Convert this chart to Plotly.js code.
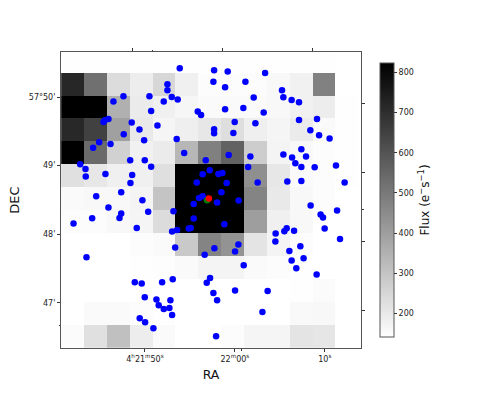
<!DOCTYPE html>
<html>
<head>
<meta charset="utf-8">
<script src="https://cdn.plot.ly/plotly-3.0.1.min.js"></script>
<style>html,body{margin:0;padding:0;background:#fff}</style>
</head>
<body>
<div id="chart" style="width:484px;height:396px"></div>
<script>
// flux per image pixel, rows listed top to bottom
const fluxRows = [
  [145,145,145,145,145,145,145,145,145,145,145,145,143,143],
  [720,523,235,190,248,182,150,150,150,160,180,478,143,143],
  [823,823,353,195,182,165,155,155,155,160,180,190,144,143],
  [715,650,395,200,170,185,205,230,185,170,195,155,144,143],
  [823,540,265,180,195,335,480,560,275,172,160,150,144,143],
  [225,205,182,182,227,823,823,823,440,206,155,150,144,143],
  [155,160,160,172,300,823,823,823,470,200,160,150,143,143],
  [150,150,160,170,235,823,823,823,400,182,160,143,143,143],
  [143,143,143,150,155,285,470,430,215,172,150,143,143,143],
  [143,143,143,146,148,155,172,172,155,150,146,143,143,143],
  [143,143,143,143,143,143,143,143,143,143,146,152,143,143],
  [143,155,155,150,145,143,143,143,143,143,158,161,143,143],
  [152,225,310,190,155,143,143,150,170,170,215,210,143,143]
];

// star positions: RA in seconds after 4h21m, DEC in arcmin after 57 deg
const starRa = [53.87,52.5,52.5,47.61,50.5,52.98,53.64,46.5,52.09,50.69,55.87,56.24,45.94,45.53,45.39,48.53,51.39,49.39,47.64,53.53,
  49.91,44.91,46.17,44.24,54.36,48.36,49.98,56.76,42.8,50.69,43.39,57.2,45.61,48.58,56.42,43.42,55.76,48.39,47.36,44.58,
  49.72,56.42,56.02,57.69,59.2,63.36,57.61,61.17,58.91,65.24,62.09,65.39,66.31,67.13,58.91,60.94,63.2,59.98,62.28,67.13,
  69.13,57.69,57.69,59.83,68.39,69.36,70.53,67.39,59.31,61.72,65.39,66.36,67.91,66.72,67.39,68.87,71.24,61.47,58.61,58.17,
  59.09,62.53,65.83,67.39,72.2,58.5,60.42,45.94,50.36,53.17,47.36,47.17,44.13,42.06,49.09,55.42,55.42,55.09,54.87,53.58,
  53.02,53.36,56.64,43.5,53.09,51.91,48.87,49.64,57.24,56.87,49.98,51.28,52.83,51.53,52.09,52.72,53.02,49.42,50.02,50.94,
  58.02,58.83,68.42,71.36,69.53,69.8,69.98,65.76,65.5,66.58,64.53,64.5,71.69,60.39,67.28,57.72,60.02,66.06,67.64,66.31,
  60.98,66.83,69.09,60.02,63.64,57.61,58.02,63.06,57.91];
const starDec = [50.418,50.185,50.098,50.01,50.01,50,49.962,49.933,49.933,49.796,49.787,49.738,49.679,49.66,49.636,49.627,49.583,49.525,49.456,49.388,
  49.369,49.34,49.315,49.262,49.184,49.077,49.077,49.077,49.019,48.985,48.95,48.931,48.878,48.863,48.873,48.84,48.752,48.746,48.611,48.552,
  48.494,48.552,48.528,50.389,50.37,50.35,50.224,50.224,50.141,50.098,49.991,49.996,49.956,49.923,49.821,49.84,49.773,49.636,49.617,49.665,
  49.679,49.529,49.471,49.475,49.515,49.442,49.394,49.238,49.155,49.131,49.16,49.117,49.131,49.034,48.98,48.975,49,48.98,48.892,48.878,
  48.746,48.752,48.767,48.776,48.752,48.611,48.49,48.388,48.329,48.334,48.3,48.236,48.232,48.155,48.09,48.44,48.227,48.09,48.082,48.061,
  48.038,47.805,47.7,47.663,47.343,47.299,47.299,47.28,47.36,47.294,47.08,47.047,47.036,46.964,46.91,46.924,46.822,46.774,46.716,46.628,
  48.461,48.144,48.417,48.344,48.286,48.242,48.082,48.086,48.042,48.052,48.009,47.892,47.93,47.848,47.824,47.794,47.746,47.755,47.649,47.615,
  47.547,47.503,47.411,47.178,47.172,47.143,47.036,46.866,46.512];

const greenRa = [56.91], greenDec = [48.494];
const redRa = [57.11], redDec = [48.519];

const raTicks = [50, 60, 70];
const raLabels = ['4<sup>h</sup>21<sup>m</sup>50<sup>s</sup>', '22<sup>m</sup>00<sup>s</sup>', '10<sup>s</sup>'];
const decTicks = [50, 49, 48, 47];
const decLabels = ["57°50'", "49'", "48'", "47'"];
const topTicks = [48.58, 58.58, 68.58];
const rightTicks = [49.904, 48.898, 47.896, 46.895];

const xRange = [40.667, 74.022];
const yRange = [46.341, 50.656];
const frame = '#555555';

const traces = [
  {
    type: 'heatmap',
    z: fluxRows.slice().reverse(),
    x0: 41.96, dx: 2.544,
    y0: 46.517, dy: 0.3338,
    zmin: 142, zmax: 823,
    colorscale: [[0, '#ffffff'], [1, '#000000']],
    hoverinfo: 'skip',
    colorbar: {
      x: 1.0626, xanchor: 'left', xpad: 0,
      y: 0.5, yanchor: 'middle', ypad: 0,
      thickness: 14,
      len: 274, lenmode: 'pixels',
      outlinewidth: 1, outlinecolor: frame,
      tick0: 200, dtick: 100,
      ticks: 'outside', ticklen: 3, tickwidth: 1, tickcolor: '#333',
      tickfont: { size: 8, color: '#222' },
      title: { text: 'Flux (e<sup>−</sup>s<sup>−1</sup>)', side: 'right', font: { size: 12, color: '#111' } }
    }
  },
  { type: 'scatter', mode: 'markers', x: starRa, y: starDec, marker: { color: '#0000ff', size: 6.5 } },
  { type: 'scatter', mode: 'markers', x: greenRa, y: greenDec, marker: { color: '#008000', size: 6.5 } },
  { type: 'scatter', mode: 'markers', x: redRa, y: redDec, marker: { color: '#ff0000', size: 6.5 } },
  // empty trace so the top and right tick axes get drawn
  { type: 'scatter', mode: 'markers', x: [60], y: [48], xaxis: 'x2', yaxis: 'y2', marker: { opacity: 0 }, hoverinfo: 'skip' }
];

const layout = {
  width: 484, height: 396,
  margin: { l: 60.5, r: 123.3, t: 51.7, b: 48.3, pad: 0 },
  paper_bgcolor: '#fff', plot_bgcolor: '#fff',
  showlegend: false,
  font: { family: 'DejaVu Sans', color: '#222' },
  xaxis: {
    range: xRange, showgrid: false, zeroline: false,
    tickmode: 'array', tickvals: raTicks, ticktext: raLabels,
    ticks: 'outside', ticklen: 3, tickwidth: 1, tickcolor: '#333',
    minor: { tickmode: 'array', tickvals: [60.72], ticks: 'outside', ticklen: 1.5, tickcolor: '#333', showgrid: false },
    tickfont: { size: 8 },
    showline: true, linecolor: frame, linewidth: 1, mirror: true,
    title: { text: 'RA', font: { size: 12.5, color: '#111' }, standoff: 7 }
  },
  yaxis: {
    range: yRange, showgrid: false, zeroline: false,
    tickmode: 'array', tickvals: decTicks, ticktext: decLabels,
    ticks: 'outside', ticklen: 3, tickwidth: 1, tickcolor: '#333',
    minor: { tickmode: 'array', tickvals: [46.662], ticks: 'outside', ticklen: 1.5, tickcolor: '#333', showgrid: false },
    tickfont: { size: 8 },
    showline: true, linecolor: frame, linewidth: 1, mirror: true,
    title: { text: 'DEC', font: { size: 13, color: '#111' }, standoff: 6 }
  },
  xaxis2: {
    overlaying: 'x', side: 'top', range: xRange, showgrid: false, zeroline: false,
    tickmode: 'array', tickvals: topTicks, showticklabels: false,
    ticks: 'outside', ticklen: 3, tickwidth: 1, tickcolor: '#333',
    minor: { tickmode: 'array', tickvals: [50.8], ticks: 'outside', ticklen: 1.5, tickcolor: '#333', showgrid: false }
  },
  yaxis2: {
    overlaying: 'y', side: 'right', range: yRange, showgrid: false, zeroline: false,
    tickmode: 'array', tickvals: rightTicks, showticklabels: false,
    ticks: 'outside', ticklen: 3, tickwidth: 1, tickcolor: '#333',
    minor: { tickmode: 'array', tickvals: [48.363], ticks: 'outside', ticklen: 1.5, tickcolor: '#333', showgrid: false }
  }
};

Plotly.newPlot('chart', traces, layout, { displayModeBar: false, staticPlot: true });
</script>
</body>
</html>
